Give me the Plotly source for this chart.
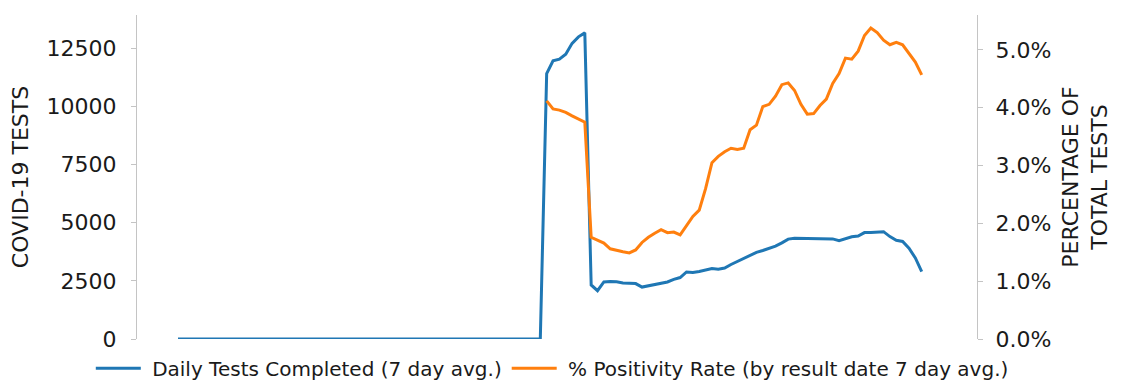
import plotly.graph_objects as go
import pandas as pd

# ---- data ----
start_date = "2020-03-01"
n_days = 118
dates = pd.date_range(start_date, periods=n_days)

tests_zero_days = 58
daily_tests = [0] * tests_zero_days + [
    11400, 11950, 12020, 12230, 12700, 12980, 13150,
    2320, 2075, 2450, 2470, 2460, 2410, 2400, 2380, 2230, 2290,
    2330, 2390, 2450, 2560, 2640, 2880, 2860, 2900, 2960, 3030,
    3000, 3050, 3200, 3330, 3470, 3600, 3720, 3800, 3880, 3990,
    4130, 4290, 4330, 4330, 4330, 4330, 4320, 4320, 4300, 4220,
    4320, 4390, 4420, 4570, 4580, 4585, 4610, 4400, 4240, 4190,
    3900, 3480, 2890,
]

positivity = [None] * tests_zero_days + [
    4.12, 3.98, 3.96, 3.92, 3.86, 3.80, 3.75,
    1.76, 1.71, 1.66, 1.56, 1.53, 1.51, 1.49, 1.54, 1.67, 1.76,
    1.83, 1.89, 1.84, 1.85, 1.80, 1.97, 2.12, 2.23, 2.60, 3.05,
    3.16, 3.24, 3.30, 3.28, 3.30, 3.62, 3.70, 4.02, 4.06, 4.20,
    4.40, 4.43, 4.30, 4.06, 3.89, 3.90, 4.04, 4.15, 4.42, 4.59,
    4.86, 4.84, 4.98, 5.25, 5.38, 5.30, 5.17, 5.09, 5.13, 5.09,
    4.93, 4.79, 4.57,
]

left_ticks = [0, 2500, 5000, 7500, 10000, 12500]
left_tick_labels = ["0", "2500", "5000", "7500", "10000", "12500"]
right_ticks = [0, 1, 2, 3, 4, 5]
right_tick_labels = ["0.0%", "1.0%", "2.0%", "3.0%", "4.0%", "5.0%"]

name_tests = "Daily Tests Completed (7 day avg.)"
name_pos = "% Positivity Rate (by result date 7 day avg.)"

BLUE = "#1f77b4"
ORANGE = "#ff7f0e"
AXIS_GRAY = "#c4c4c4"
FONT = "DejaVu Sans"
NB = "\u00a0"

fig = go.Figure()
fig.add_trace(go.Scatter(x=dates, y=daily_tests, mode="lines",
                         name=NB + name_tests,
                         line=dict(color=BLUE, width=3), cliponaxis=False, yaxis="y"))
fig.add_trace(go.Scatter(x=dates, y=positivity, mode="lines",
                         name=NB + name_pos,
                         line=dict(color=ORANGE, width=3), cliponaxis=False, yaxis="y2"))

x0 = dates[0] - pd.Timedelta(days=6.45)
x1 = dates[-1] + pd.Timedelta(days=8.7)

# page body has an 8px margin; figure sized to fit the window
fig.update_layout(
    width=1105, height=375,
    margin=dict(l=129, r=136, t=7, b=44, autoexpand=False),
    paper_bgcolor="white", plot_bgcolor="white",
    font=dict(family=FONT, size=22, color="#1a1a1a"),
    showlegend=True,
    legend=dict(orientation="h", x=-0.055, xanchor="left",
                y=-0.09, yanchor="middle",
                font=dict(size=20, color="#1a1a1a"), itemwidth=45,
                bgcolor="rgba(0,0,0,0)"),
    xaxis=dict(visible=False, range=[x0, x1]),
    yaxis=dict(range=[0, 13918], tickvals=left_ticks, ticktext=left_tick_labels,
               showgrid=False, zeroline=False, automargin=False,
               showline=True, linecolor=AXIS_GRAY, linewidth=1,
               ticks="outside", ticklen=5, tickcolor=AXIS_GRAY, ticklabelstandoff=10,
               title=dict(text="COVID-19 TESTS", standoff=12, font=dict(size=22)),
               tickfont=dict(size=22)),
    yaxis2=dict(range=[0, 5.605], tickvals=right_ticks, ticktext=right_tick_labels,
                overlaying="y", side="right", automargin=False,
                showgrid=False, zeroline=False,
                showline=True, linecolor=AXIS_GRAY, linewidth=1,
                ticks="outside", ticklen=5, tickcolor=AXIS_GRAY, ticklabelstandoff=8,
                title=dict(text="PERCENTAGE OF<br>TOTAL TESTS", standoff=12, font=dict(size=22)),
                tickfont=dict(size=22)),
)

fig.write_html("out.html")
